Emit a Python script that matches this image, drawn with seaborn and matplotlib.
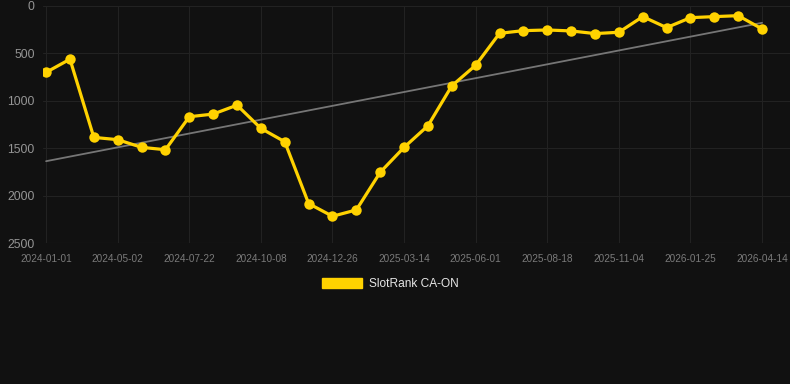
import numpy as np
import pandas as pd
import seaborn as sns
from matplotlib import pyplot as plt
from matplotlib.patches import Patch

# fechas de cada punto (solo cada 3ra se muestra en el eje)
dates = ["2024-01-01", "2024-02-10", "2024-03-22", "2024-05-02", "2024-05-29", "2024-06-25",
         "2024-07-22", "2024-08-17", "2024-09-12", "2024-10-08", "2024-11-03", "2024-11-30",
         "2024-12-26", "2025-01-21", "2025-02-17", "2025-03-14", "2025-04-09", "2025-05-06",
         "2025-06-01", "2025-06-27", "2025-07-23", "2025-08-18", "2025-09-13", "2025-10-09",
         "2025-11-04", "2025-12-01", "2025-12-28", "2026-01-25", "2026-02-20", "2026-03-18",
         "2026-04-14"]
rank = [700, 561, 1386, 1410, 1491, 1516, 1168, 1140, 1046, 1291, 1432, 2084, 2218, 2151,
        1754, 1491, 1263, 842, 625, 288, 260, 253, 263, 291, 277, 112, 228, 123, 112, 102, 242]
series_name = "SlotRank CA-ON"
yticks = [0, 500, 1000, 1500, 2000, 2500]

bg = "#111111"
gold = "#FFD200"

sns.set_style("dark")
plt.rcParams['font.family'] = ['Liberation Sans', 'DejaVu Sans']

df = pd.DataFrame({"idx": np.arange(len(dates)), "fecha": dates, "rank": rank})

fig = plt.figure(figsize=(7.9, 3.84), dpi=100, facecolor=bg)
ax = fig.add_axes([43/790, 1-243/384, 747/790, 237/384])
ax.set_facecolor(bg)

# linea de tendencia (regresion lineal)
m, b = np.polyfit(df["idx"], df["rank"], 1)
df["trend"] = m*df["idx"] + b
sns.lineplot(data=df, x="idx", y="trend", ax=ax, color="#767676", linewidth=1.3)

sns.lineplot(data=df, x="idx", y="rank", ax=ax, color=gold, linewidth=2.3,
             marker="o", markersize=7.5, markeredgewidth=0, markeredgecolor=gold)

ax.set_xlim(-0.13, 31.17)
ax.set_ylim(2500, 0)
ax.set_yticks(yticks)
ax.set_yticklabels([str(t) for t in yticks], color="#959595", fontsize=8.8)
xt = df["idx"][::3]
ax.set_xticks(xt)
ax.set_xticklabels(df["fecha"][::3], color="#7a7a7a", fontsize=7.2)
ax.tick_params(axis="x", length=4, color="#2a2a2a", pad=4)
ax.tick_params(axis="y", length=0, pad=6)
ax.grid(True, color="#222222", linewidth=0.8)
ax.set_xlabel("")
ax.set_ylabel("")
for s in ax.spines.values():
    s.set_visible(False)
ax.axhline(2500, color="#2a2a2a", linewidth=0.8)

leg = fig.legend(handles=[Patch(facecolor=gold, edgecolor=gold, label=series_name)],
                 loc="center", bbox_to_anchor=(390/790, 1-284/384), frameon=False,
                 fontsize=8.6, handlelength=3.35, handleheight=1.0, handletextpad=0.6)
for t in leg.get_texts():
    t.set_color("#e6e6e6")

fig.savefig("out.png", dpi=100, facecolor=bg)
